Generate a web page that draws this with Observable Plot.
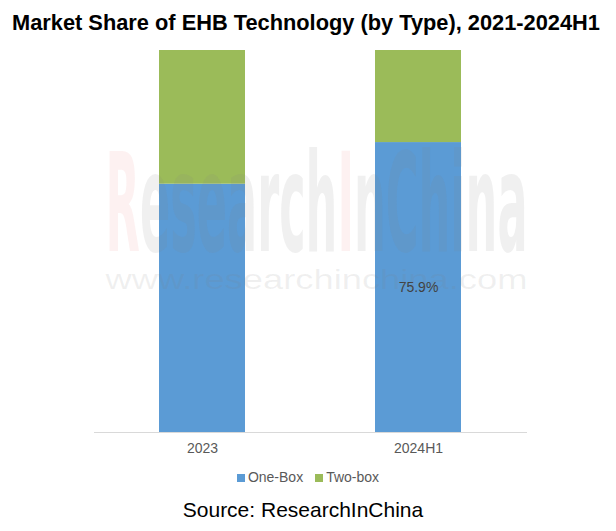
<!DOCTYPE html>
<html><head><meta charset="utf-8">
<script src="https://cdn.jsdelivr.net/npm/d3@7"></script>
<script src="https://cdn.jsdelivr.net/npm/@observablehq/plot@0.6"></script>
<style>
body{margin:0;background:#fff;font-family:"Liberation Sans",Arial,sans-serif;}
#wrap{width:616px;position:relative;}
#title{height:45px;line-height:45px;text-align:center;font-weight:bold;font-size:21.8px;color:#000;white-space:nowrap;margin-left:-4px;}
#legend{display:flex;justify-content:center;gap:12px;font-size:14px;color:#595959;margin-top:2px;height:20px;align-items:center;}
#legend span.sw{display:inline-block;width:8px;height:8px;margin-right:3px;}
#source{text-align:center;font-size:21px;color:#000;margin-top:11px;margin-left:-10px;}
</style></head>
<body><div id="wrap">
<div id="title">Market Share of EHB Technology (by Type), 2021-2024H1</div>
<div id="chart"></div>
<div id="legend"></div>
<div id="source">Source: ResearchInChina</div>
</div>
<script>
const periods = ["2023", "2024H1"];
const seriesNames = ["One-Box", "Two-box"];
const oneBox = [65.0, 75.9];
const twoBox = [35.0, 24.1];
const colors = ["#5B9BD5", "#9BBB59"];
const labels = ["", "75.9%"];

const rows = [];
periods.forEach((p, i) => {
  rows.push({period: p, type: seriesNames[0], value: oneBox[i]});
  rows.push({period: p, type: seriesNames[1], value: twoBox[i]});
});
const labelRows = periods.map((p, i) => ({period: p, y: oneBox[i] / 2, text: labels[i]})).filter(d => d.text);

const chart = Plot.plot({
  width: 616,
  height: 420,
  marginTop: 5,
  marginBottom: 33,
  marginLeft: 94,
  marginRight: 89,
  style: {fontFamily: "'Liberation Sans', Arial, sans-serif", background: "transparent"},
  x: {domain: periods, paddingInner: 0.6, paddingOuter: 0.3, label: null, tickSize: 0, tickPadding: 11},
  y: {domain: [0, 100], axis: null},
  color: {domain: seriesNames, range: colors},
  marks: [
    Plot.barY(rows, Plot.stackY({x: "period", y: "value", fill: "type", order: seriesNames})),
    Plot.ruleY([0], {stroke: "#d9d9d9", strokeWidth: 1}),
    Plot.text(labelRows, {x: "period", y: "y", text: "text", fill: "#404040", fontSize: 14}),
    Plot.text(["ResearchInChina"], {frameAnchor: "top-left", dx: 11, dy: 200, lineAnchor: "bottom", textAnchor: "start", text: d => d, fontSize: 138, fontWeight: "bold", fontFamily: "'DejaVu Sans Condensed', sans-serif", fill: "#808080", fillOpacity: 0.12}),
    Plot.text(["www.researchinchina.com"], {frameAnchor: "top-left", dx: 11, dy: 238, lineAnchor: "bottom", textAnchor: "start", text: d => d, fontSize: 28, fontFamily: "'Liberation Sans', Arial, sans-serif", fill: "#808080", fillOpacity: 0.12})
  ]
});
const xt = chart.querySelector("g[aria-label='x-axis tick label']");
if (xt) { xt.setAttribute("font-size", "14"); xt.setAttribute("fill", "#595959"); }
// watermark glyph fitting
const texts = Array.from(chart.querySelectorAll("text"));
texts.forEach(t => {
  if (t.textContent === "ResearchInChina") {
    t.setAttribute("textLength", "422");
    t.setAttribute("lengthAdjust", "spacingAndGlyphs");
    t.textContent = "";
    const parts = [["R", "#e05050"], ["esearch", null], ["I", "#e05050"], ["nChina", null]];
    parts.forEach(([s, c]) => {
      const ts = document.createElementNS("http://www.w3.org/2000/svg", "tspan");
      ts.textContent = s;
      if (c) { ts.setAttribute("fill", c); ts.setAttribute("fill-opacity", "0.08"); }
      t.appendChild(ts);
    });
  } else if (t.textContent === "www.researchinchina.com") {
    t.setAttribute("textLength", "422");
    t.setAttribute("lengthAdjust", "spacingAndGlyphs");
  }
});
document.getElementById("chart").appendChild(chart);

const leg = document.getElementById("legend");
seriesNames.forEach((n, i) => {
  const d = document.createElement("div");
  d.innerHTML = `<span class="sw" style="background:${colors[i]}"></span>${n}`;
  leg.appendChild(d);
});
</script>
</body></html>
